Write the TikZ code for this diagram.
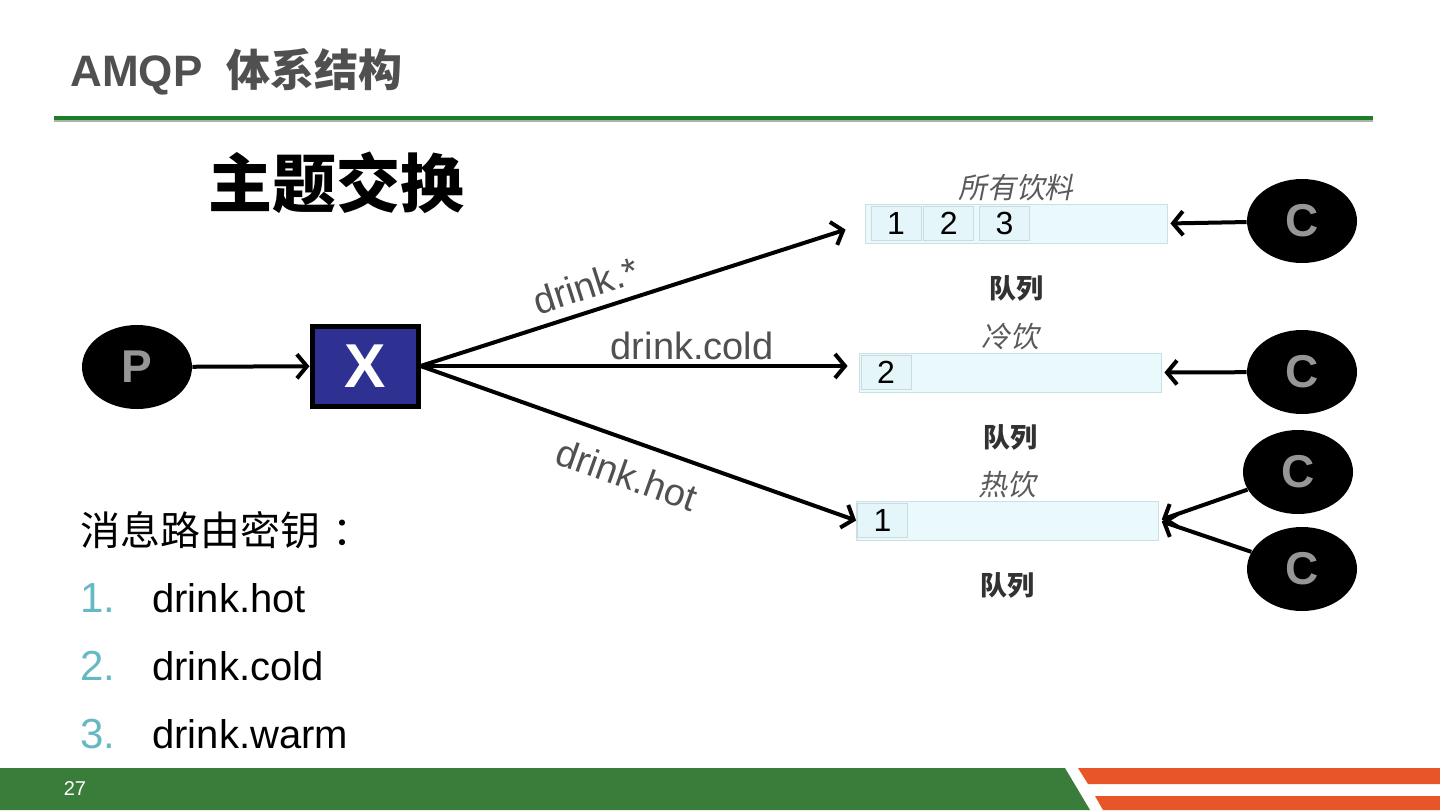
\documentclass[tikz,border=0pt]{standalone}
\usepackage{fontspec}
\setmainfont{Liberation Sans}
\newfontfamily\cjk{Noto Sans CJK SC}
\newfontfamily\cjkit{Noto Sans CJK SC}[FakeSlant=0.2]
\usetikzlibrary{positioning,arrows.meta,shapes.geometric}

\definecolor{titlegray}{RGB}{80,80,80}
\definecolor{bargreen}{RGB}{30,125,40}
\definecolor{barshadow}{RGB}{170,180,170}
\definecolor{xblue}{RGB}{46,49,146}
\definecolor{actorgray}{RGB}{150,150,150}
\definecolor{qfill}{RGB}{234,250,252}
\definecolor{qborder}{RGB}{200,225,230}
\definecolor{cellfill}{RGB}{228,246,249}
\definecolor{cellborder}{RGB}{205,218,220}
\definecolor{namegray}{RGB}{90,90,90}
\definecolor{taggray}{RGB}{50,50,50}
\definecolor{lblgray}{RGB}{80,80,80}
\definecolor{numteal}{RGB}{100,185,195}
\definecolor{footgreen}{RGB}{58,125,58}
\definecolor{footorange}{RGB}{232,85,40}

\begin{document}
\begin{tikzpicture}[
  x=0.5pt, y=-0.5pt,
  actor/.style ={ellipse, fill=black, minimum width=55pt, minimum height=42pt,
                 inner sep=0pt, text=actorgray, font=\bfseries\fontsize{23}{23}\selectfont},
  xbox/.style  ={rectangle, draw=black, line width=2.5pt, fill=xblue,
                 minimum width=53pt, minimum height=40pt, text=white,
                 font=\bfseries\fontsize{31}{31}\selectfont},
  queue/.style ={rectangle, draw=qborder, fill=qfill, minimum width=151pt,
                 minimum height=19.5pt, inner sep=0pt},
  cell/.style  ={rectangle, fill=cellfill, draw=cellborder, minimum width=25pt,
                 minimum height=17pt, inner sep=0pt, font=\fontsize{16}{16}\selectfont},
  qname/.style ={inner sep=1pt, text=namegray, font=\cjkit\fontsize{14.4}{14.4}\selectfont},
  qtag/.style  ={inner sep=1pt, text=taggray, font=\cjk\bfseries\fontsize{13.5}{13.5}\selectfont},
  keylbl/.style={inner sep=2pt, text=lblgray, font=\fontsize{19}{19}\selectfont},
  num/.style   ={inner sep=0pt, text=numteal, font=\fontsize{21}{21}\selectfont},
  item/.style  ={inner sep=0pt, font=\fontsize{20}{20}\selectfont},
  arrow/.style ={-{Straight Barb[length=5pt,width=12pt]}, line width=2pt},
]
\useasboundingbox (0,0) rectangle (1440,810);

% -------- header ----------------------------------------------------------
\node[anchor=west, inner sep=0pt, text=titlegray,
      font=\bfseries\fontsize{22}{22}\selectfont] (title) at (70,72) {AMQP\ \ {\cjk 体系结构}};
\fill[barshadow] (54,120) rectangle (1373,122);
\fill[bargreen] (54,116) rectangle (1373,120);
\node[anchor=west, inner sep=0pt, font=\cjk\bfseries\fontsize{32}{32}\selectfont] (topic) at (208,183) {主题交换};

% -------- producer / exchange --------------------------------------------
\node[actor] (P) at (137,367) {P};
\node[xbox] (X) at (365,366) {X};

% -------- queues ----------------------------------------------------------
\node[queue] (q1) at (1016,223.5) {};
\node[queue] (q2) at (1010,372.5) {};
\node[queue] (q3) at (1007.5,520.5) {};

\node[cell, anchor=west] (q1a) at ([xshift=3pt]q1.west) {1};
\node[cell, right=1pt of q1a] (q1b) {2};
\node[cell, right=2.5pt of q1b] (q1c) {3};
\node[cell, anchor=west] (q2a) at ([xshift=1pt]q2.west) {2};
\node[cell, anchor=west] (q3a) at ([xshift=0.5pt]q3.west) {1};

\node[qname, above=0pt of q1] (n1) {所有饮料};
\node[qname, above=0pt of q2] (n2) {冷饮};
\node[qname, above=0pt of q3] (n3) {热饮};
\node[qtag, below=15pt of q1] (t1) {队列};
\node[qtag, below=15pt of q2] (t2) {队列};
\node[qtag, below=15pt of q3] (t3) {队列};

% -------- consumers -------------------------------------------------------
\node[actor] (c1) at (1302,221) {C};
\node[actor] (c2) at (1302,372) {C};
\node[actor] (c3) at (1298,472) {C};
\node[actor] (c4) at (1302,569) {C};

% -------- arrows ----------------------------------------------------------
\draw[arrow] (P) -- (X);
\draw[arrow, shorten >=10pt] (X.east) -- node[keylbl, sloped, above=3pt, pos=0.39] (l1) {drink.*} (q1.west);
\draw[arrow, shorten >=5.5pt] (X.east) -- node[keylbl, above, pos=0.62] (l2) {drink.cold} (X.east -| q2.west);
\draw[arrow] (X.east) -- node[keylbl, sloped, below=7pt, pos=0.5] (l3) {drink.hot} (q3.west);

\foreach \c/\q in {c1/q1, c2/q2, c3/q3, c4/q3}
  \draw[arrow, shorten >=1.5pt] (\c) -- (\q.east);

% -------- routing keys ----------------------------------------------------
\node[anchor=west, inner sep=0pt, font=\cjk\fontsize{20}{20}\selectfont] (keys) at (80,530) {消息路由密钥\kern0.3em：};
\foreach \i/\y/\t in {1/598/drink.hot, 2/666/drink.cold, 3/734/drink.warm} {
  \node[num, anchor=west] (k\i) at (80,\y) {\i.};
  \node[item, anchor=west] (d\i) at (152,\y) {\t};
}

% -------- footer ----------------------------------------------------------
\fill[footgreen] (0,768) -- (1065,768) -- (1090,810) -- (0,810) -- cycle;
\fill[footorange] (1078,768) -- (1440,768) -- (1440,784) -- (1088,784) -- cycle;
\fill[footorange] (1095,796) -- (1440,796) -- (1440,810) -- (1103,810) -- cycle;
\node[text=white, font=\fontsize{10}{10}\selectfont] (page) at (75,789) {27};

\end{tikzpicture}
\end{document}
